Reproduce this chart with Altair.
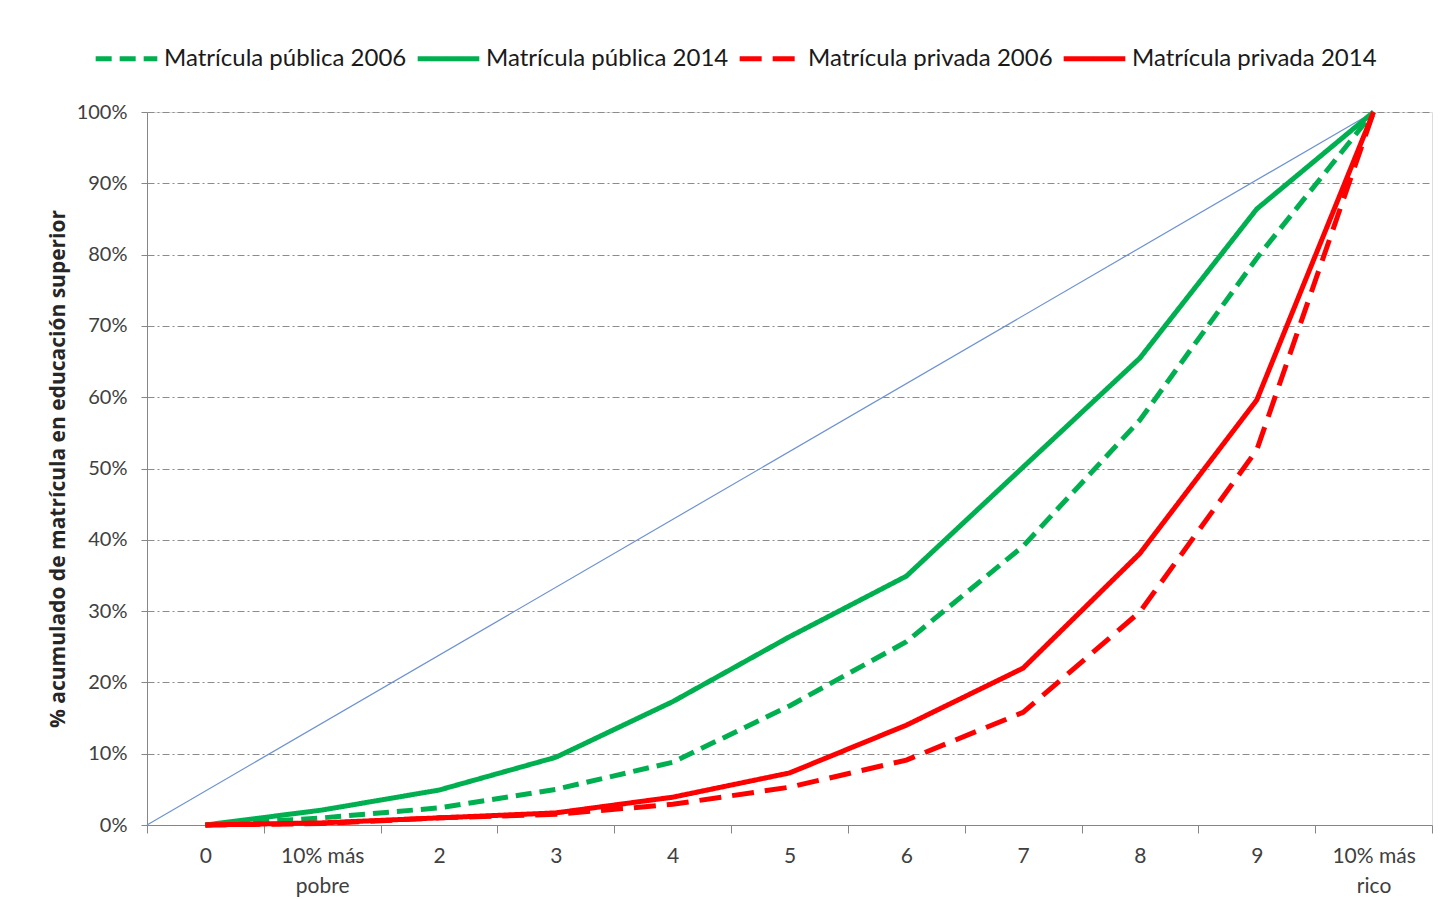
import json
import altair as alt
import pandas as pd

# ---- data ----
categories = ["0", "10% más\npobre", "2", "3", "4", "5", "6", "7", "8", "9", "10% más\nrico"]
positions = [0, 1, 2, 3, 4, 5, 6, 7, 8, 9, 10]

series_names = ["Matrícula pública 2006", "Matrícula pública 2014",
                "Matrícula privada 2006", "Matrícula privada 2014"]
publica_2006 = [0, 1.0, 2.4, 5.0, 8.8, 16.7, 25.7, 39.1, 56.8, 79.5, 100]
publica_2014 = [0, 2.1, 4.9, 9.5, 17.3, 26.4, 34.9, 50.2, 65.5, 86.4, 100]
privada_2006 = [0, 0.2, 1.0, 1.5, 2.9, 5.3, 9.1, 15.8, 29.9, 52.6, 100]
privada_2014 = [0, 0.3, 1.0, 1.7, 3.9, 7.3, 14.0, 22.0, 38.1, 59.6, 100]

equality_x = [-0.5, 10]
equality_y = [0, 100]

boundaries = [i - 0.5 for i in range(12)]
y_ticks = [0, 10, 20, 30, 40, 50, 60, 70, 80, 90, 100]

# ---- tables ----
rows = []
for name, vals in zip(series_names, [publica_2006, publica_2014, privada_2006, privada_2014]):
    for p, v in zip(positions, vals):
        rows.append({"serie": name, "pos": p, "valor": v})
df = pd.DataFrame(rows)
diag = pd.DataFrame({"pos": equality_x, "valor": equality_y})

label_arrays = json.dumps([c.split("\n") for c in categories], ensure_ascii=False)
label_expr = label_arrays + "[round(datum.value)]"

FONT = "Lato, Open Sans, sans-serif"
GREEN = "#00b050"
RED = "#ff0000"

xscale = alt.Scale(domain=[-0.5, 10.5], nice=False, zero=False)
yscale = alt.Scale(domain=[0, 100], nice=False)

yaxis = alt.Axis(
    values=y_ticks, labelExpr="datum.value + '%'", grid=True,
    gridDash=[7, 3, 2, 3], gridColor="#8c8c8c", gridWidth=1,
    domainColor="#868686", tickColor="#868686", tickSize=6,
    labelFontSize=20, labelColor="#404040", labelFont=FONT, labelPadding=14,
    title="% acumulado de matrícula en educación superior",
    titleFont="Open Sans", titleFontSize=21, titleFontWeight="bold",
    titleColor="#262626", titlePadding=8,
)

lines = alt.Chart(df).mark_line().encode(
    x=alt.X("pos:Q", scale=xscale,
            axis=alt.Axis(values=boundaries, labels=False, grid=False, tickSize=8,
                          domainColor="#868686", tickColor="#868686", title=None,
                          orient="bottom")),
    y=alt.Y("valor:Q", scale=yscale, axis=yaxis),
    color=alt.Color("serie:N", sort=series_names,
                    scale=alt.Scale(domain=series_names, range=[GREEN, GREEN, RED, RED]),
                    legend=alt.Legend(orient="none", legendX=-54, legendY=-87,
                                      direction="horizontal", title=None,
                                      symbolType="stroke", symbolSize=3800,
                                      labelFontSize=24, labelFont=FONT, labelLimit=0,
                                      labelColor="#1a1a1a", labelOffset=4,
                                      columnPadding=0, symbolStrokeWidth=5)),
    strokeDash=alt.StrokeDash("serie:N", sort=series_names,
                              scale=alt.Scale(domain=series_names,
                                              range=[[16, 8], [1, 0], [22, 11], [1, 0]]),
                              legend=None),
    strokeWidth=alt.StrokeWidth("serie:N", sort=series_names,
                                scale=alt.Scale(domain=series_names, range=[5, 5, 5, 3]),
                                legend=None),
    order="pos:Q",
)

diagonal = alt.Chart(diag).mark_line(color="#6f93d1", strokeWidth=1.2).encode(
    x=alt.X("pos:Q", scale=xscale,
            axis=alt.Axis(values=positions, labelExpr=label_expr, ticks=False,
                          domain=False, grid=False, labelFontSize=21, labelFont=FONT,
                          labelColor="#404040", labelPadding=20, labelLineHeight=30,
                          title=None, orient="bottom")),
    y=alt.Y("valor:Q", scale=yscale),
)

chart = alt.layer(diagonal, lines).resolve_axis(x="independent").properties(
    width=1285, height=713,
    autosize=alt.AutoSizeParams(type="none"),
    padding={"left": 139, "top": 104, "right": 10, "bottom": 80},
).configure_view(strokeWidth=0).configure(background="white")

chart.save("out.html", embed_options={"renderer": "svg", "actions": False})
